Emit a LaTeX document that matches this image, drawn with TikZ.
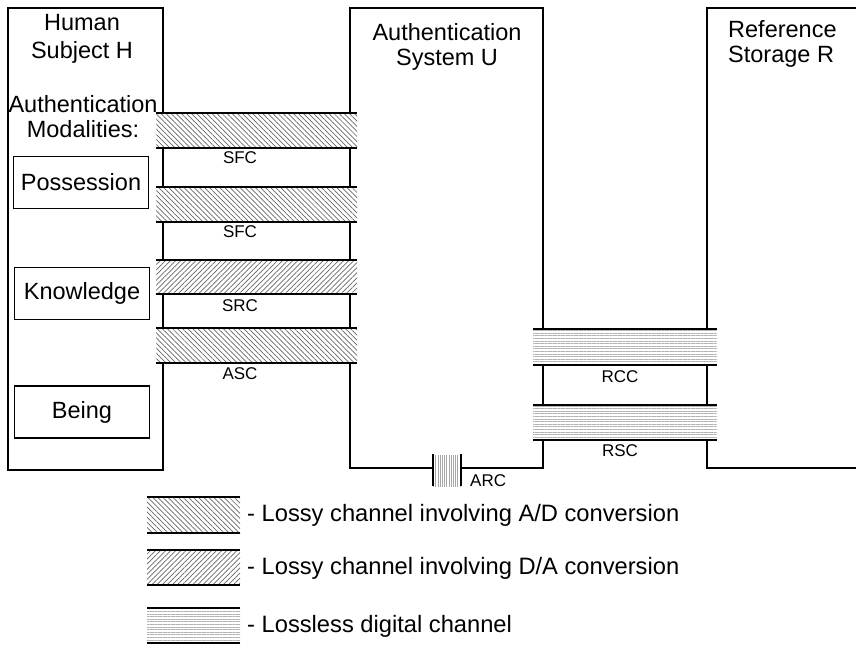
\documentclass[tikz,border=0pt]{standalone}
\usepackage{fontspec}
\setmainfont{Liberation Sans}
\usetikzlibrary{patterns.meta}
\tikzset{
  wall/.style={line width=2.6pt},
  rail/.style={line width=2.6pt},
  adfill/.style={pattern={Lines[angle=-45,distance=3.6pt,line width=0.7pt]},pattern color=black!60},
  dafill/.style={pattern={Lines[angle=45,distance=3.6pt,line width=0.7pt]},pattern color=black!60},
  llfill/.style={pattern={Lines[angle=0,distance=2.6pt,line width=0.5pt]},pattern color=black!30},
  llvfill/.style={pattern={Lines[angle=90,distance=2.2pt,line width=0.5pt]},pattern color=black!35},
  big/.style={font=\fontsize{23.5}{25}\selectfont, align=center, inner sep=0pt},
  lab/.style={font=\fontsize{17}{20}\selectfont, inner sep=0pt},
  leg/.style={font=\fontsize{23.7}{25}\selectfont, inner sep=0pt, anchor=west},
  modbox/.style={draw, line width=1.6pt, minimum width=135pt, minimum height=52pt, inner sep=0pt, font=\fontsize{23.5}{25}\selectfont}
}
\newcommand\hchan[5]{%
  \fill[#5] (#1,#3) rectangle (#2,#4);
  \draw[rail] (#1,#3) -- (#2,#3) (#1,#4) -- (#2,#4);}
\begin{document}
\begin{tikzpicture}[x=1pt,y=-1pt]
\useasboundingbox (0,0) rectangle (856,645);
% Human subject box
\draw[wall] (163,113) -- (163,8) -- (8,8) -- (8,470) -- (163,470) -- (163,363);
\draw[wall] (163,148) -- (163,187) (163,222) -- (163,260) (163,294) -- (163,328);
% Authentication system box
\draw[wall] (350,113) -- (350,8) -- (543,8) -- (543,329);
\draw[wall] (350,148) -- (350,187) (350,222) -- (350,260) (350,294) -- (350,328);
\draw[wall] (350,363) -- (350,468) -- (433,468);
\draw[wall] (461,468) -- (543,468) -- (543,440);
\draw[wall] (543,365) -- (543,405);
% Reference storage box
\draw[wall] (856,8) -- (707,8) -- (707,329);
\draw[wall] (707,365) -- (707,405);
\draw[wall] (707,440) -- (707,468) -- (856,468);
% left channels
\hchan{156}{357}{113}{148}{adfill}
\hchan{156}{357}{187}{222}{adfill}
\hchan{156}{357}{260}{294}{dafill}
\hchan{156}{357}{328}{363}{adfill}
% right channels
\hchan{533}{717}{329}{365}{llfill}
\hchan{533}{717}{405}{440}{llfill}
% ARC channel (vertical)
\fill[llvfill] (433,455) rectangle (461,486);
\draw[rail] (433,454) -- (433,486) (461,454) -- (461,486);
% titles
\node[big, font=\fontsize{23.5}{28}\selectfont] (hT) at (82,39) {Human\\Subject H};
\node[big] (uT) at (447,47) {Authentication\\System U};
\node[big, align=left, anchor=north west] (rT) at (728,20) {Reference\\Storage R};
\node[big] (mT) at (83,117) {Authentication\\Modalities:};
% modality boxes
\node[modbox] (pos) at (81,182.5) {Possession};
\node[modbox] (kno) at (82,293.5) {Knowledge};
\node[modbox] (bei) at (82,412) {Being};
% channel labels
\node[lab] (sfc1) at (240,158) {SFC};
\node[lab] (sfc2) at (240,232) {SFC};
\node[lab] (src) at (240,306) {SRC};
\node[lab] (asc) at (240,374) {ASC};
\node[lab] (rcc) at (620,377) {RCC};
\node[lab] (rsc) at (620,451) {RSC};
\node[lab, anchor=west] (arc) at (470,481) {ARC};
% legend
\hchan{147}{240}{497}{533}{adfill}
\hchan{147}{240}{550}{585}{dafill}
\hchan{147}{240}{608}{643}{llfill}
\node[leg] (l1) at (247,515) {- Lossy channel involving A/D conversion};
\node[leg] (l2) at (247,568) {- Lossy channel involving D/A conversion};
\node[leg] (l3) at (247,626) {- Lossless digital channel};
\end{tikzpicture}
\end{document}
